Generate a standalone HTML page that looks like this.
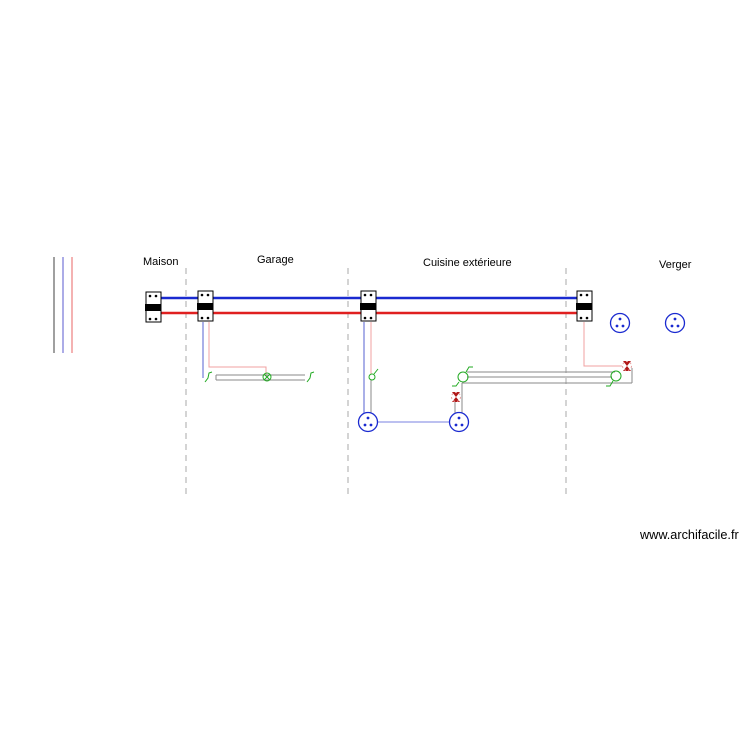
<!DOCTYPE html>
<html><head><style>body{margin:0;background:#fff}svg{display:block}text{font-family:"Liberation Sans",sans-serif;font-size:11px}</style></head><body>
<svg width="750" height="750" xmlns="http://www.w3.org/2000/svg">
<defs>
<g id="b"><rect x="0" y="0" width="15" height="30" fill="#fff" stroke="#000"/><rect x="-1" y="12" width="16" height="7" fill="#000"/><circle cx="4" cy="4" r="1.3"/><circle cx="10" cy="4" r="1.3"/><circle cx="4" cy="27" r="1.3"/><circle cx="10" cy="27" r="1.3"/></g>
</defs>
<line x1="54" y1="257" x2="54" y2="353" stroke="#777" stroke-width="1.4"/>
<line x1="63" y1="257" x2="63" y2="353" stroke="#8888dd" stroke-width="1.4"/>
<line x1="72" y1="257" x2="72" y2="353" stroke="#f09090" stroke-width="1.4"/>
<g stroke="#aaa" stroke-dasharray="6,5"><line x1="186" y1="268" x2="186" y2="495"/><line x1="348" y1="268" x2="348" y2="495"/><line x1="566" y1="268" x2="566" y2="495"/></g>
<text x="143" y="265">Maison</text><text x="257" y="263">Garage</text><text x="423" y="266">Cuisine extérieure</text><text x="659" y="268">Verger</text>
<text x="640" y="539" style="font-size:12.7px">www.archifacile.fr</text>
<line x1="161" y1="298" x2="577" y2="298" stroke="#1a2ad0" stroke-width="2.5"/>
<line x1="161" y1="313" x2="577" y2="313" stroke="#e02020" stroke-width="2.5"/>
<line x1="203" y1="322" x2="203" y2="378" stroke="#aab0e8" stroke-width="2"/>
<polyline points="209,322 209,367 266,367 266,376" fill="none" stroke="#f0a0a0"/>
<g stroke="#888" fill="none"><line x1="216" y1="375" x2="305" y2="375"/><line x1="216" y1="380" x2="305" y2="380"/><line x1="216" y1="375" x2="216" y2="380"/></g>
<g stroke="#2a2" fill="none"><circle cx="267" cy="377" r="4"/><line x1="264" y1="374" x2="270" y2="380"/><line x1="270" y1="374" x2="264" y2="380"/><path d="M205,382 l3,-4 l1,-5 l3,-1"/><path d="M307,382 l3,-4 l1,-5 l3,-1"/></g>
<line x1="364" y1="322" x2="364" y2="413" stroke="#aab0e8" stroke-width="2"/>
<line x1="371" y1="322" x2="371" y2="374" stroke="#f0a0a0"/>
<line x1="371" y1="380" x2="371" y2="413" stroke="#888"/>
<line x1="377" y1="422" x2="450" y2="422" stroke="#7a80e0"/>
<g stroke="#2a2" fill="none"><circle cx="372" cy="377" r="3"/><path d="M374,374 l4,-5"/></g>
<line x1="455" y1="400" x2="455" y2="413" stroke="#888"/>
<line x1="462" y1="383" x2="462" y2="413" stroke="#888"/>
<g stroke="#888" fill="none"><line x1="467" y1="372" x2="615" y2="372"/><line x1="467" y1="377" x2="612" y2="377"/><line x1="462" y1="383" x2="632" y2="383"/><line x1="632" y1="368" x2="632" y2="383"/></g>
<g stroke="#2a2" fill="none"><circle cx="463" cy="377" r="5"/><path d="M466,372 l3,-5 l4,0"/><path d="M459,382 l-3,4 l-4,0"/><circle cx="616" cy="376" r="5"/><path d="M613,381 l-3,5 l-4,0"/></g>
<polyline points="584,322 584,366 622,366" fill="none" stroke="#f0a0a0"/>
<g fill="#b01818"><path d="M452,392 h8 l-4,5z M452,402 h8 l-4,-5z"/><path d="M623,361 h8 l-4,5z M623,371 h8 l-4,-5z"/></g>
<circle cx="456" cy="397" r="4.5" fill="none" stroke="#e8a0a0" stroke-dasharray="2,2"/>
<circle cx="627" cy="366" r="4.5" fill="none" stroke="#e8a0a0" stroke-dasharray="2,2"/>
<g stroke="#1a2ad0" fill="none" stroke-width="1.3"><circle cx="368" cy="422" r="9.5"/><circle cx="459" cy="422" r="9.5"/><circle cx="620" cy="323" r="9.5"/><circle cx="675" cy="323" r="9.5"/></g>
<g fill="#1a2ad0"><circle cx="368" cy="418" r="1.4"/><circle cx="365" cy="425" r="1.4"/><circle cx="371" cy="425" r="1.4"/><circle cx="459" cy="418" r="1.4"/><circle cx="456" cy="425" r="1.4"/><circle cx="462" cy="425" r="1.4"/><circle cx="620" cy="319" r="1.4"/><circle cx="617" cy="326" r="1.4"/><circle cx="623" cy="326" r="1.4"/><circle cx="675" cy="319" r="1.4"/><circle cx="672" cy="326" r="1.4"/><circle cx="678" cy="326" r="1.4"/></g>
<use href="#b" x="146" y="292"/><use href="#b" x="198" y="291"/><use href="#b" x="361" y="291"/><use href="#b" x="577" y="291"/>
</svg>
</body></html>
